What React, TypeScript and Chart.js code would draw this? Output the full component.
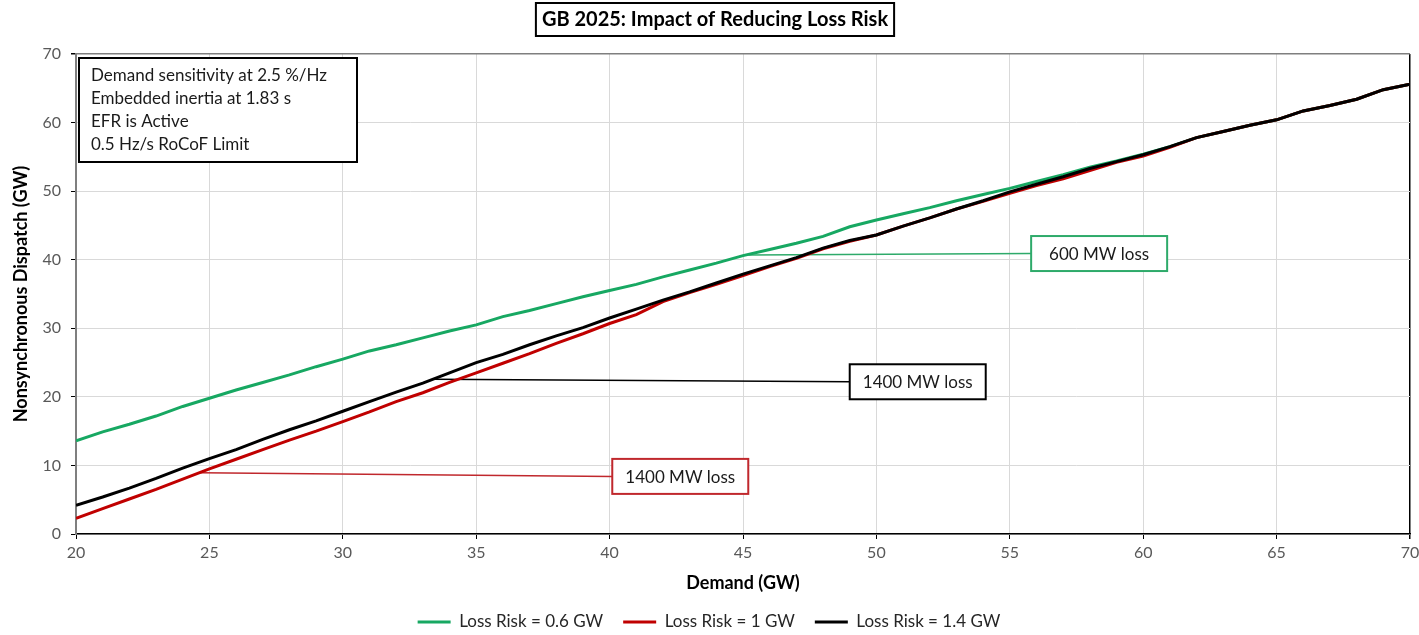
import React, { useEffect, useRef } from "react";
import { Chart, registerables } from "chart.js";

Chart.register(...registerables);

// ---------- Data ----------
const demandGW = [
  20, 21, 22, 23, 24, 25, 26, 27, 28, 29, 30, 31, 32, 33, 34, 35, 36, 37, 38, 39, 40,
  41, 42, 43, 44, 45, 46, 47, 48, 49, 50, 51, 52, 53, 54, 55, 56, 57, 58, 59, 60,
  61, 62, 63, 64, 65, 66, 67, 68, 69, 70,
];

const lossRisk06 = [
  13.6, 14.9, 16.0, 17.2, 18.6, 19.8, 21.0, 22.1, 23.2, 24.4, 25.5, 26.7, 27.6, 28.6, 29.6, 30.5,
  31.7, 32.6, 33.6, 34.6, 35.5, 36.4, 37.5, 38.5, 39.5, 40.6, 41.5, 42.4, 43.4, 44.8, 45.8,
  46.7, 47.6, 48.6, 49.5, 50.4, 51.4, 52.4, 53.5, 54.4, 55.4,
  56.5, 57.8, 58.7, 59.6, 60.4, 61.7, 62.5, 63.4, 64.8, 65.6,
];

const lossRisk10 = [
  2.3, 3.7, 5.1, 6.5, 8.0, 9.5, 10.9, 12.3, 13.7, 15.0, 16.4, 17.8, 19.3, 20.6, 22.1, 23.5,
  24.9, 26.3, 27.8, 29.2, 30.7, 32.0, 33.9, 35.2, 36.4, 37.7, 39.0, 40.2, 41.6, 42.7, 43.6,
  44.9, 46.1, 47.4, 48.5, 49.7, 50.8, 51.8, 53.0, 54.2, 55.1,
  56.4, 57.8, 58.7, 59.6, 60.4, 61.7, 62.5, 63.4, 64.8, 65.6,
];

const lossRisk14 = [
  4.2, 5.4, 6.7, 8.1, 9.6, 11.0, 12.3, 13.8, 15.2, 16.5, 17.9, 19.3, 20.7, 22.0, 23.5, 25.0,
  26.2, 27.6, 28.9, 30.1, 31.5, 32.8, 34.1, 35.3, 36.6, 37.9, 39.1, 40.3, 41.7, 42.8, 43.6,
  44.9, 46.1, 47.4, 48.6, 49.9, 51.0, 52.1, 53.3, 54.3, 55.3,
  56.5, 57.8, 58.7, 59.6, 60.4, 61.7, 62.5, 63.4, 64.8, 65.6,
];

const seriesLabels = ["Loss Risk = 0.6 GW", "Loss Risk = 1 GW", "Loss Risk = 1.4 GW"];
const seriesColors = ["#17A862", "#C00000", "#000000"];

// Callouts: leader line start (on the curve), box anchor (left-middle of box)
const calloutTexts = ["600 MW loss", "1400 MW loss", "1400 MW loss"];
const calloutColors = ["#2EAA6A", "#000000", "#C0282D"];
const calloutStartX = [45.2, 33.4, 24.65];
const calloutStartY = [40.7, 22.55, 8.95];
const calloutBoxX = [55.8, 49.0, 40.1];
const calloutBoxY = [40.9, 22.2, 8.4];

const infoLines = [
  "Demand sensitivity at 2.5 %/Hz",
  "Embedded inertia at 1.83 s",
  "EFR is Active",
  "0.5 Hz/s RoCoF Limit",
];

const chartTitle = "GB 2025: Impact of Reducing Loss Risk";
const xTitle = "Demand (GW)";
const yTitle = "Nonsynchronous Dispatch (GW)";

const FONT = "Lato, 'Open Sans', sans-serif";

const boxesPlugin = {
  id: "boxes",
  afterDatasetsDraw(chart: any) {
    const { ctx, chartArea, scales } = chart;
    const xs = scales.x;
    const ys = scales.y;
    ctx.save();

    // Title box
    ctx.font = `bold 20px ${FONT}`;
    const tw = ctx.measureText(chartTitle).width;
    const cx = 715;
    const bw = tw + 12;
    ctx.fillStyle = "#fff";
    ctx.fillRect(cx - bw / 2, 3, bw, 33);
    ctx.strokeStyle = "#000";
    ctx.lineWidth = 2;
    ctx.strokeRect(cx - bw / 2, 3, bw, 33);
    ctx.fillStyle = "#000";
    ctx.textAlign = "center";
    ctx.textBaseline = "middle";
    ctx.fillText(chartTitle, cx, 20);

    // Info box
    const ix = chartArea.left + 3;
    const iy = chartArea.top + 4;
    ctx.fillStyle = "#fff";
    ctx.fillRect(ix, iy, 278, 104);
    ctx.strokeStyle = "#000";
    ctx.lineWidth = 2;
    ctx.strokeRect(ix, iy, 278, 104);
    ctx.fillStyle = "#1a1a1a";
    ctx.font = `17px ${FONT}`;
    ctx.textAlign = "left";
    infoLines.forEach((t, i) => ctx.fillText(t, ix + 12, iy + 18 + i * 23));

    // Callout boxes
    ctx.font = `17px ${FONT}`;
    calloutTexts.forEach((t, i) => {
      const px = xs.getPixelForValue(calloutBoxX[i]);
      const py = ys.getPixelForValue(calloutBoxY[i]);
      const w = 136;
      const h = 35;
      ctx.fillStyle = "#fff";
      ctx.fillRect(px, py - h / 2, w, h);
      ctx.strokeStyle = calloutColors[i];
      ctx.lineWidth = 2;
      ctx.strokeRect(px, py - h / 2, w, h);
      ctx.fillStyle = "#1a1a1a";
      ctx.textAlign = "center";
      ctx.fillText(t, px + w / 2, py + 1);
    });
    ctx.restore();
  },
};

export default function App() {
  const ref = useRef<HTMLCanvasElement | null>(null);

  useEffect(() => {
    if (!ref.current) return;
    Chart.defaults.font.family = FONT;

    const mainSets = [lossRisk06, lossRisk10, lossRisk14].map((vals, i) => ({
      label: seriesLabels[i],
      data: demandGW.map((x, j) => ({ x, y: vals[j] })),
      borderColor: seriesColors[i],
      backgroundColor: seriesColors[i],
      borderWidth: 3,
      pointRadius: 0,
      tension: 0,
      order: [2, 1, 0][i],
    }));

    const calloutSets = calloutTexts.map((t, i) => ({
      label: "callout-" + i,
      data: [
        { x: calloutStartX[i], y: calloutStartY[i] },
        { x: calloutBoxX[i], y: calloutBoxY[i] },
      ],
      borderColor: calloutColors[i],
      backgroundColor: calloutColors[i],
      borderWidth: 1.5,
      pointRadius: 0,
      order: 5,
    }));

    const chart = new Chart(ref.current, {
      type: "line",
      data: { datasets: [...mainSets, ...calloutSets] as any },
      plugins: [boxesPlugin],
      options: {
        animation: false,
        responsive: false,
        maintainAspectRatio: false,
        layout: { padding: { left: 8, right: 9, top: 54, bottom: -5.5 } },
        plugins: {
          title: { display: false },
          tooltip: { enabled: false },
          legend: {
            position: "bottom",
            labels: {
              usePointStyle: true,
              pointStyle: "line",
              pointStyleWidth: 33,
              boxHeight: 17,
              color: "#262626",
              font: { size: 17 },
              padding: 20,
              filter: (item: any) => item.datasetIndex < 3,
              sort: (a: any, b: any) => a.datasetIndex - b.datasetIndex,
            },
          },
        },
        scales: {
          x: {
            type: "linear",
            min: 20,
            max: 70,
            ticks: { stepSize: 5, color: "#595959", font: { size: 16 }, padding: 4 },
            grid: {
              color: (c: any) => (c.tick && c.tick.value === 70 ? "#000" : "#D9D9D9"),
              lineWidth: (c: any) => (c.tick && c.tick.value === 70 ? 1.5 : 1),
              tickColor: "#000",
              tickLength: 5,
            },
            border: { color: "#000", width: 1.5 },
            title: {
              display: true,
              text: xTitle,
              color: "#000",
              font: { size: 18, weight: "bold" },
              padding: { top: 4, bottom: 0 },
            },
            afterFit: (s: any) => {
              s.height = 59.5;
              s.paddingLeft = 0;
              s.paddingRight = 0;
            },
          },
          y: {
            type: "linear",
            min: 0,
            max: 70,
            ticks: { stepSize: 10, color: "#595959", font: { size: 16 }, padding: 10 },
            grid: {
              color: (c: any) => (c.tick && c.tick.value === 70 ? "#7F7F7F" : "#D9D9D9"),
              lineWidth: (c: any) => (c.tick && c.tick.value === 70 ? 1.5 : 1),
              tickColor: "#000",
              tickLength: 5,
            },
            border: { color: "#7F7F7F", width: 2 },
            title: {
              display: true,
              text: yTitle,
              color: "#000",
              font: { size: 18, weight: "bold" },
              padding: { top: 2, bottom: 4 },
            },
            afterFit: (s: any) => {
              s.width = 68;
              s.paddingTop = 0;
              s.paddingBottom = 0;
            },
          },
        },
      } as any,
    });

    return () => chart.destroy();
  }, []);

  return (
    <div style={{ position: "fixed", left: 0, top: 0, width: 1419, height: 635, background: "#fff" }}>
      <canvas ref={ref} width={1419} height={635} style={{ display: "block" }} />
    </div>
  );
}
